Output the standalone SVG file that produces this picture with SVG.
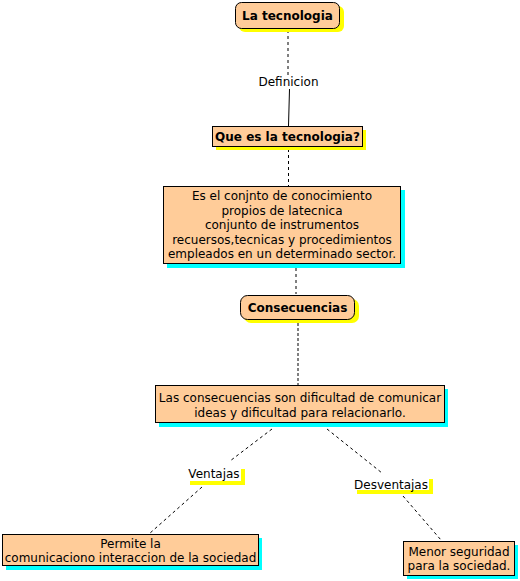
<svg xmlns="http://www.w3.org/2000/svg" width="520" height="581" viewBox="0 0 520 581">
<style>
text{font-family:"DejaVu Sans",Verdana,"Liberation Sans",sans-serif;font-size:12px;fill:#000;text-anchor:middle}
.b{font-weight:bold}
.box{fill:#ffcc99;stroke:#000;stroke-width:1}
.ys{fill:#ffff00}
.cs{fill:#00ffff}
.dash{stroke:#000;stroke-width:1;stroke-dasharray:3,3;fill:none}
.solid{stroke:#000;stroke-width:1;fill:none}
</style>
<rect width="520" height="581" fill="#fff"/>
<g id="connectors">
<line class="dash" x1="288" y1="30" x2="288" y2="76"/>
<line class="solid" x1="289.5" y1="89" x2="288.5" y2="126"/>
<line class="dash" x1="288.5" y1="149" x2="288.5" y2="186"/>
<line class="dash" x1="296" y1="268" x2="296" y2="294"/>
<line class="dash" x1="298" y1="323" x2="298" y2="385" style="stroke-dasharray:3,2"/>
<line class="dash" x1="272" y1="429" x2="230" y2="461"/>
<line class="dash" x1="202" y1="487" x2="149" y2="534"/>
<line class="dash" x1="327" y1="429" x2="382" y2="473"/>
<line class="dash" x1="403" y1="496" x2="441" y2="540"/>
</g>
<g id="n1">
<rect class="ys" x="239" y="6" width="105" height="26" rx="6"/>
<rect class="box" x="235.5" y="2.5" width="104" height="26" rx="6"/>
<text class="b" x="287.5" y="19.5">La tecnologia</text>
</g>
<g id="l1">
<text x="288.5" y="86">Definicion</text>
</g>
<g id="n2">
<rect class="ys" x="216" y="130" width="150" height="20"/>
<rect class="box" x="212.5" y="126.5" width="150" height="20"/>
<text class="b" x="287.5" y="141">Que es la tecnologia?</text>
</g>
<g id="n3">
<rect class="cs" x="167" y="190" width="238" height="78"/>
<rect class="box" x="163.5" y="186.5" width="237" height="77"/>
<text x="282" y="200">Es el conjnto de conocimiento</text>
<text x="282" y="214.5">propios de latecnica</text>
<text x="282" y="229">conjunto de instrumentos</text>
<text x="282" y="243.5">recuersos,tecnicas y procedimientos</text>
<text x="282" y="258">empleados en un determinado sector.</text>
</g>
<g id="n4">
<rect class="ys" x="244" y="299" width="115" height="24" rx="7"/>
<rect class="box" x="240.5" y="295.5" width="114" height="24" rx="7"/>
<text class="b" x="297.5" y="312">Consecuencias</text>
</g>
<g id="n5">
<rect class="cs" x="159" y="389" width="289" height="38"/>
<rect class="box" x="155.5" y="385.5" width="289" height="37"/>
<text x="300" y="401.5">Las consecuencias son dificultad de comunicar</text>
<text x="300" y="416.5">ideas y dificultad para relacionarlo.</text>
</g>
<g id="l2">
<rect class="ys" x="190" y="469" width="55" height="16"/>
<rect fill="#fff" x="186" y="465" width="55" height="16"/>
<text x="214" y="478">Ventajas</text>
</g>
<g id="l3">
<rect class="ys" x="357" y="479" width="76" height="15"/>
<rect fill="#fff" x="353" y="475" width="76" height="15"/>
<text x="391" y="489">Desventajas</text>
</g>
<g id="n6">
<rect class="cs" x="6" y="538" width="256" height="32"/>
<rect class="box" x="2.5" y="534.5" width="256" height="31"/>
<text x="130.5" y="547.5">Permite la</text>
<text x="130.5" y="562">comunicaciono interaccion de la sociedad</text>
</g>
<g id="n7">
<rect class="cs" x="407" y="545" width="111" height="34"/>
<rect class="box" x="403.5" y="541.5" width="111" height="34"/>
<text x="459" y="555.5">Menor seguridad</text>
<text x="459" y="570">para la sociedad.</text>
</g>
</svg>
